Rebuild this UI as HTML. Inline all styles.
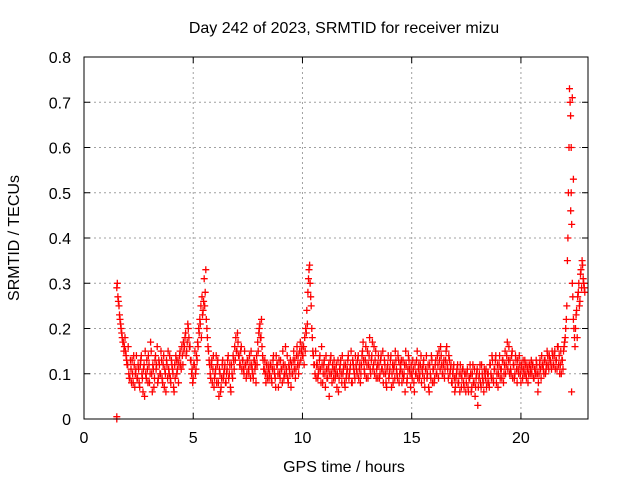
<!DOCTYPE html>
<html><head><meta charset="utf-8"><style>
body{margin:0;background:#fff}
svg{display:block;font-family:"Liberation Sans",sans-serif;font-size:16px}
</style></head><body>
<svg id="chart" width="640" height="480" xmlns="http://www.w3.org/2000/svg">
<text x="344" y="33" text-anchor="middle">Day 242 of 2023, SRMTID for receiver mizu</text>
<text x="344" y="472" text-anchor="middle">GPS time / hours</text>
<text transform="translate(19,238) rotate(-90)" text-anchor="middle">SRMTID / TECUs</text>
<g id="grid"></g><g id="ticks"></g><g id="pts"></g>
<rect x="84" y="57" width="504" height="362" fill="none" stroke="#000" stroke-width="1"/>
</svg>
<script>
const xTicks=[0,5,10,15,20];
const yTicks=[0,0.1,0.2,0.3,0.4,0.5,0.6,0.7,0.8];
const yTickLabels=["0","0.1","0.2","0.3","0.4","0.5","0.6","0.7","0.8"];
const t0=1.5, dt=0.05;
const seriesA=[.29,.27,.25,.22,.2,.18,.17,.16,.15,.13,.12,.1,.09,.11,.13,.08,.12,.1,.14,.09,
.11,.07,.13,.1,.06,.12,.15,.09,.11,.14,.08,.17,.1,.12,.07,.13,.11,.16,.09,.12,
.1,.13,.08,.14,.11,.06,.12,.15,.1,.09,.13,.11,.07,.12,.14,.1,.13,.12,.15,.11,
.14,.17,.16,.19,.15,.21,.18,.16,.13,.11,.09,.12,.1,.14,.17,.2,.22,.25,.27,.24,
.31,.28,.22,.18,.15,.12,.09,.13,.11,.07,.1,.14,.12,.08,.11,.06,.09,.13,.1,.12,
.08,.11,.14,.1,.07,.12,.09,.13,.16,.18,.15,.17,.14,.12,.16,.13,.11,.15,.12,.1,
.13,.1,.12,.15,.11,.09,.13,.12,.14,.17,.19,.21,.18,.16,.13,.11,.1,.12,.09,.11,
.1,.12,.08,.13,.11,.09,.14,.12,.07,.1,.13,.11,.15,.09,.12,.1,.14,.08,.11,.13,
.12,.1,.15,.13,.11,.16,.14,.12,.17,.15,.14,.16,.18,.2,.24,.28,.33,.3,.25,.18,
.14,.12,.15,.12,.09,.11,.14,.08,.12,.1,.13,.07,.11,.09,.12,.1,.14,.08,.11,.13,
.09,.12,.1,.06,.11,.13,.08,.1,.12,.07,.09,.11,.14,.1,.12,.08,.13,.11,.09,.12,
.1,.14,.11,.08,.12,.15,.13,.1,.16,.12,.09,.14,.11,.13,.17,.12,.1,.15,.11,.09,
.12,.1,.14,.11,.08,.13,.1,.07,.12,.09,.11,.14,.1,.08,.12,.15,.11,.09,.13,.1,
.11,.08,.13,.1,.06,.12,.09,.14,.11,.07,.1,.13,.08,.12,.1,.15,.11,.09,.12,.08,
.1,.13,.07,.11,.09,.12,.06,.1,.14,.08,.11,.09,.13,.1,.12,.15,.11,.14,.1,.12,
.09,.13,.16,.11,.14,.1,.12,.08,.11,.09,.07,.1,.12,.08,.06,.1,.09,.11,.07,.1,
.08,.11,.06,.09,.1,.07,.12,.08,.05,.09,.11,.07,.1,.08,.12,.09,.06,.1,.11,.08,
.1,.07,.12,.09,.13,.08,.11,.14,.1,.07,.12,.09,.11,.13,.08,.12,.1,.14,.11,.16,
.13,.1,.15,.12,.09,.14,.11,.13,.1,.12,.08,.11,.13,.1,.12,.09,.11,.1,.12,.11,
.1,.12,.09,.11,.13,.1,.08,.12,.11,.14,.12,.1,.13,.11,.15,.12,.14,.13,.11,.14,
.12,.15,.13,.11,.16,.14,.12,.1,.13,.15,.17,.2,.25,.4,.6,.7,.5,.3,.22,.18,
.2,.24,.27,.3,.26,.33,.35,.31,.29];
const seriesB=[.3,.26,.23,.21,.19,.17,.15,.18,.14,.12,.16,.09,.13,.08,.1,.14,.07,.11,.09,.12,
.08,.12,.14,.09,.11,.05,.1,.13,.08,.12,.1,.15,.06,.11,.09,.14,.12,.08,.13,.1,
.15,.09,.12,.07,.1,.13,.09,.11,.14,.08,.12,.1,.06,.09,.13,.11,.08,.14,.12,.16,
.12,.15,.18,.14,.17,.2,.16,.13,.1,.08,.12,.15,.11,.13,.16,.19,.21,.18,.23,.26,
.25,.33,.2,.16,.13,.1,.12,.08,.14,.09,.11,.08,.13,.05,.1,.07,.12,.09,.11,.08,
.1,.13,.09,.12,.06,.1,.14,.11,.13,.15,.19,.14,.12,.15,.11,.13,.1,.12,.09,.13,
.11,.14,.09,.12,.1,.13,.11,.08,.12,.15,.2,.18,.22,.14,.11,.13,.08,.1,.12,.09,
.12,.09,.11,.14,.1,.07,.12,.1,.13,.09,.11,.08,.12,.1,.16,.11,.09,.12,.1,.07,
.1,.13,.11,.09,.14,.12,.1,.15,.13,.16,.14,.12,.15,.19,.21,.31,.34,.27,.2,.15,
.12,.1,.09,.12,.1,.13,.11,.16,.08,.12,.1,.14,.09,.11,.05,.13,.1,.12,.09,.11,
.1,.07,.13,.09,.12,.1,.14,.11,.08,.12,.1,.13,.09,.11,.15,.08,.12,.1,.14,.11,
.13,.09,.12,.1,.14,.17,.11,.13,.09,.15,.12,.18,.1,.14,.11,.16,.13,.09,.12,.14,
.09,.13,.11,.15,.1,.12,.08,.11,.14,.1,.13,.07,.12,.11,.09,.13,.1,.14,.08,.12,
.13,.1,.09,.12,.15,.08,.11,.13,.1,.12,.09,.11,.06,.1,.13,.09,.12,.1,.14,.11,
.12,.09,.11,.14,.1,.07,.12,.09,.13,.11,.08,.12,.1,.14,.09,.13,.16,.12,.1,.13,
.11,.15,.12,.09,.13,.11,.08,.1,.12,.06,.09,.11,.08,.1,.12,.07,.11,.08,.1,.06,
.1,.07,.09,.12,.06,.1,.08,.11,.07,.1,.03,.09,.12,.07,.1,.08,.11,.09,.07,.1,
.08,.12,.1,.14,.09,.11,.13,.08,.12,.1,.14,.11,.09,.13,.1,.15,.12,.17,.13,.1,
.11,.14,.09,.12,.1,.13,.08,.11,.14,.1,.12,.09,.11,.13,.1,.12,.08,.12,.1,.13,
.12,.09,.11,.1,.12,.06,.1,.13,.09,.12,.11,.13,.1,.12,.14,.11,.13,.12,.15,.12,
.14,.11,.13,.16,.12,.1,.15,.13,.11,.16,.18,.22,.35,.5,.73,.67,.43,.27,.2,.16,
.23,.18,.28,.25,.32,.29,.34,.3,.28];
const extraT=[1.5,1.5,22.3,22.35,22.32,22.4,22.28];
const extraV=[0,0.005,0.6,0.71,0.06,0.53,0.46];

const X0=84,X1=588,Y0=419,Y1=57,XMAX=23.07,YMAX=0.8;
function xs(t){return X0+(X1-X0)*t/XMAX;}
function ys(v){return Y0-(Y0-Y1)*v/YMAX;}
const NS='http://www.w3.org/2000/svg';
const grid=document.getElementById('grid'),ticks=document.getElementById('ticks'),pts=document.getElementById('pts');
function mk(tag,attrs,parent){const e=document.createElementNS(NS,tag);for(const k in attrs)e.setAttribute(k,attrs[k]);parent.appendChild(e);return e;}
xTicks.forEach(t=>{
  const x=xs(t);
  if(t>0){const g=mk('line',{x1:x,x2:x,y1:Y1,y2:Y0,stroke:'#a0a0a0','stroke-dasharray':'2,3'},grid);
  
  }
  mk('line',{x1:x,x2:x,y1:Y0,y2:Y0-6,stroke:'#000'},ticks);
  mk('line',{x1:x,x2:x,y1:Y1,y2:Y1+6,stroke:'#000'},ticks);
  const l=mk('text',{x:x,y:443,'text-anchor':'middle'},ticks);l.textContent=t;
  
  
});
yTicks.forEach((v,i)=>{
  const y=ys(v);
  if(v>0&&v<YMAX){const g=mk('line',{x1:X0,x2:X1,y1:y,y2:y,stroke:'#a0a0a0','stroke-dasharray':'2,3'},grid);
  
  }
  mk('line',{x1:X0,x2:X0+6,y1:y,y2:y,stroke:'#000'},ticks);
  mk('line',{x1:X1,x2:X1-6,y1:y,y2:y,stroke:'#000'},ticks);
  const l=mk('text',{x:71,y:y+6,'text-anchor':'end'},ticks);l.textContent=yTickLabels[i];
  
  
});
let d='';
function plus(t,v){const x=xs(t),y=ys(v);d+=`M${(x-3.5).toFixed(1)} ${y.toFixed(1)}h7M${x.toFixed(1)} ${(y-3.5).toFixed(1)}v7`;}
seriesA.forEach((v,i)=>plus(t0+dt*i,v));
seriesB.forEach((v,i)=>plus(t0+dt*i+0.025,v));
extraT.forEach((t,i)=>plus(t,extraV[i]));
const p=mk('path',{d:d,stroke:'#ff0000','stroke-width':1.3,fill:'none'},pts);


</script>
</body></html>
